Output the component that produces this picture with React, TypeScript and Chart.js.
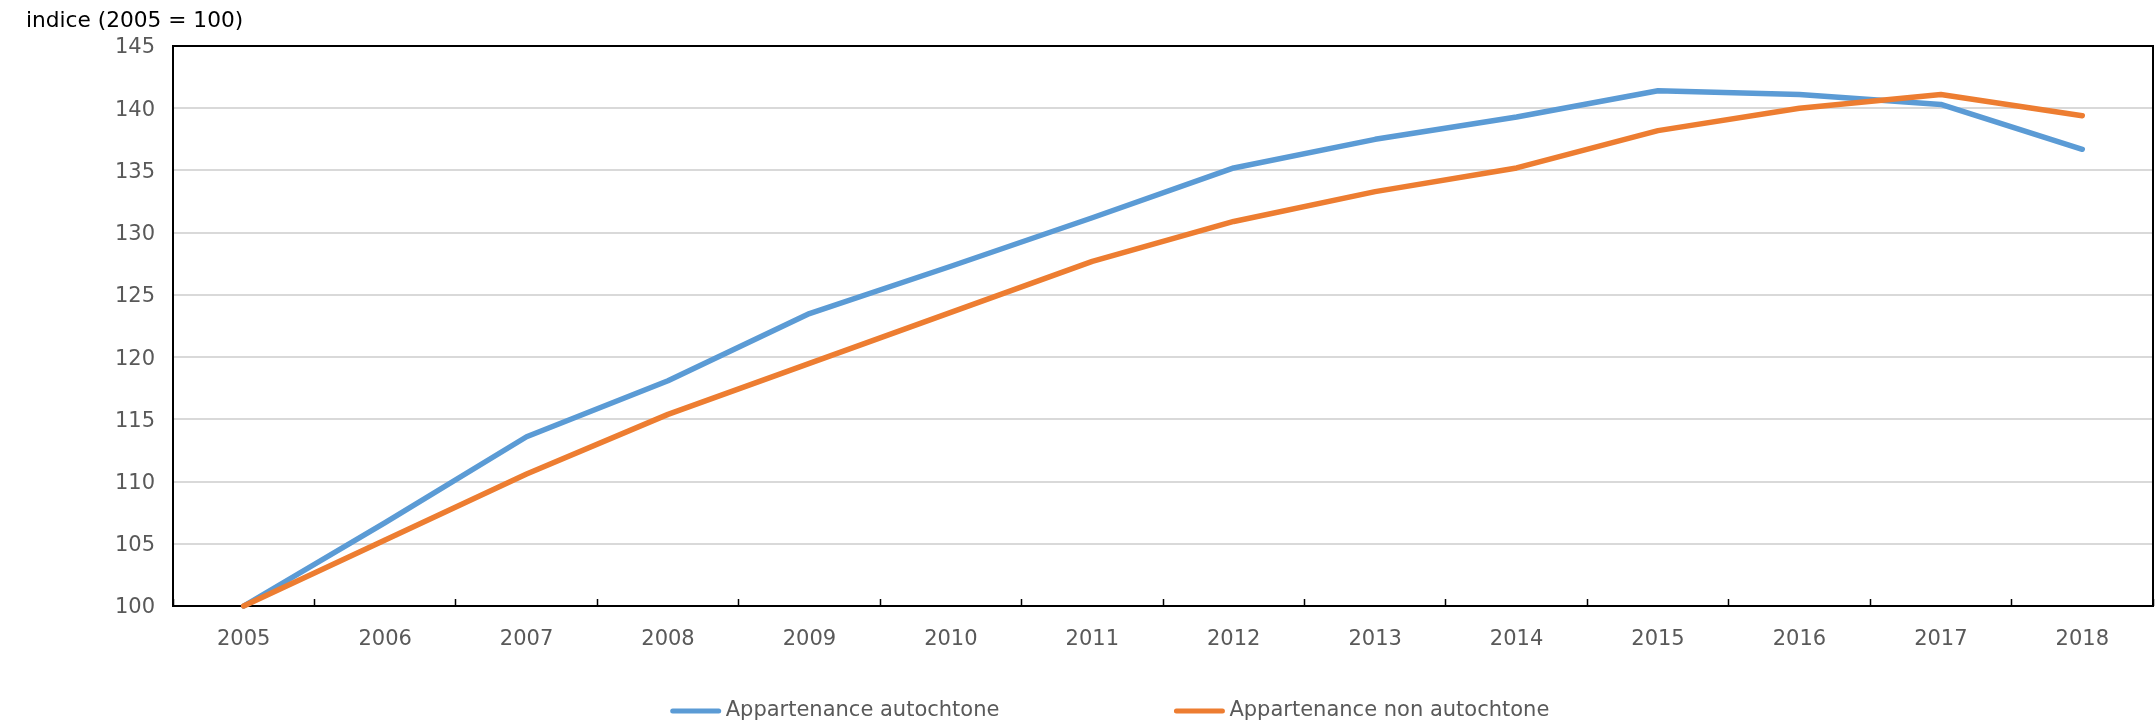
import React, { useEffect, useRef } from "react";
import { Chart, registerables } from "chart.js";

Chart.register(...registerables);

const years = ["2005", "2006", "2007", "2008", "2009", "2010", "2011", "2012", "2013", "2014", "2015", "2016", "2017", "2018"];
const autochtone = [100, 106.7, 113.6, 118.1, 123.5, 127.3, 131.2, 135.2, 137.5, 139.3, 141.4, 141.1, 140.3, 136.7];
const nonAutochtone = [100, 105.3, 110.6, 115.4, 119.5, 123.6, 127.7, 130.9, 133.3, 135.2, 138.2, 140.0, 141.1, 139.4];
const seriesLabels = ["Appartenance autochtone", "Appartenance non autochtone"];
const seriesColors = ["#5B9BD5", "#ED7D31"];
const yTitle = "indice (2005 = 100)";
const yMin = 100;
const yMax = 145;
const yStep = 5;

const FONT = "'DejaVu Sans', Verdana, sans-serif";

export default function App() {
  const ref = useRef<HTMLCanvasElement | null>(null);

  useEffect(() => {
    if (!ref.current) return;

    const framePlugin = {
      id: "frame",
      beforeDatasetsDraw(chart: any) {
        const { ctx, chartArea: a } = chart;
        ctx.save();
        ctx.strokeStyle = "#000";
        ctx.lineWidth = 2;
        ctx.strokeRect(a.left, a.top, a.right - a.left, a.bottom - a.top);
        ctx.restore();
      },
    };

    const titlePlugin = {
      id: "ytitle",
      afterDraw(chart: any) {
        const ctx = chart.ctx;
        ctx.save();
        ctx.font = `21.7px ${FONT}`;
        ctx.fillStyle = "#000";
        ctx.textAlign = "left";
        ctx.textBaseline = "alphabetic";
        ctx.fillText(yTitle, 26, 27);
        ctx.restore();
      },
    };

    const legendPlugin = {
      id: "customLegend",
      afterDraw(chart: any) {
        const ctx = chart.ctx;
        const opts = chart.options.plugins.customLegend;
        ctx.save();
        ctx.font = `21px ${FONT}`;
        const ds = chart.data.datasets;
        const widths = ds.map((d: any) => opts.lineLen + opts.textGap + ctx.measureText(d.label).width);
        const total = widths.reduce((s: number, w: number) => s + w, 0) + opts.itemGap * (ds.length - 1);
        let x = opts.center - total / 2;
        const y = opts.y;
        ds.forEach((d: any, i: number) => {
          ctx.strokeStyle = d.borderColor;
          ctx.lineWidth = 5;
          ctx.lineCap = "round";
          ctx.beginPath();
          ctx.moveTo(x + 2, y);
          ctx.lineTo(x + opts.lineLen - 2, y);
          ctx.stroke();
          ctx.fillStyle = "#595959";
          ctx.textAlign = "left";
          ctx.textBaseline = "middle";
          ctx.fillText(d.label, x + opts.lineLen + opts.textGap, y);
          x += widths[i] + opts.itemGap;
        });
        ctx.restore();
      },
    };

    const chart = new Chart(ref.current, {
      type: "line",
      data: {
        labels: years,
        datasets: [
          {
            label: seriesLabels[0],
            data: autochtone,
            borderColor: seriesColors[0],
            backgroundColor: seriesColors[0],
            borderWidth: 5.5,
            pointRadius: 0,
            tension: 0,
            borderCapStyle: "round",
            borderJoinStyle: "round",
            clip: false as any,
            order: 1,
          },
          {
            label: seriesLabels[1],
            data: nonAutochtone,
            borderColor: seriesColors[1],
            backgroundColor: seriesColors[1],
            borderWidth: 5.5,
            pointRadius: 0,
            tension: 0,
            borderCapStyle: "round",
            borderJoinStyle: "round",
            clip: false as any,
            order: 0,
          },
        ],
      },
      options: {
        responsive: false,
        animation: false,
        devicePixelRatio: 1,
        layout: { padding: { left: 0, right: 3, top: 46, bottom: 0 } },
        plugins: {
          legend: { display: false },
          tooltip: { enabled: false },
          title: { display: false },
          customLegend: { center: 1110, y: 711, lineLen: 50, textGap: 5, itemGap: 175 },
        } as any,
        scales: {
          x: {
            type: "category",
            offset: true,
            grid: {
              offset: true,
              drawOnChartArea: false,
              drawTicks: true,
              tickLength: -7,
              tickColor: "#000",
              tickWidth: 1.5,
            },
            border: { display: false },
            ticks: {
              color: "#595959",
              font: { family: FONT, size: 21 },
              padding: 28,
              maxRotation: 0,
              autoSkip: false,
            },
            afterFit(scale: any) {
              scale.height = 119;
            },
          },
          y: {
            min: yMin,
            max: yMax,
            grid: {
              color: "#d9d9d9",
              lineWidth: 2,
              drawTicks: false,
              tickLength: 0,
            },
            border: { display: false },
            ticks: {
              stepSize: yStep,
              color: "#595959",
              font: { family: FONT, size: 21 },
              padding: 18,
              labelOffset: 2,
            },
            afterFit(scale: any) {
              scale.width = 173;
            },
          },
        },
      },
      plugins: [framePlugin, titlePlugin, legendPlugin],
    });

    return () => chart.destroy();
  }, []);

  return (
    <div style={{ position: "fixed", left: 0, top: 0, width: 2156, height: 725, background: "#fff" }}>
      <canvas ref={ref} width={2156} height={725} style={{ display: "block", width: 2156, height: 725 }} />
    </div>
  );
}
